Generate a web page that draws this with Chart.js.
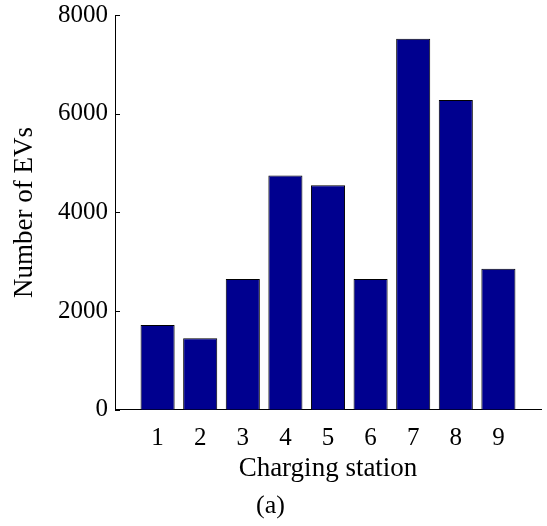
<!DOCTYPE html>
<html>
<head>
<meta charset="utf-8">
<script src="https://cdn.jsdelivr.net/npm/chart.js@4/dist/chart.umd.min.js"></script>
<style>
  html, body { margin: 0; padding: 0; background: #fff; }
  #wrap { width: 547px; height: 526px; }
</style>
</head>
<body>
<div id="wrap"><canvas id="c" width="547" height="526"></canvas></div>
<script>
// Charging stations and number of EVs served at each
const stations = ['1', '2', '3', '4', '5', '6', '7', '8', '9'];
const evCounts = [1720, 1450, 2650, 4750, 4550, 2650, 7520, 6280, 2860];
const yTicks = [0, 2000, 4000, 6000, 8000];

// One empty slot on each side so the stations sit at 1..9 on a 0..10 axis
const labels = [''].concat(stations, ['']);
const values = [null].concat(evCounts, [null]);

const serif = '"Liberation Serif", "Times New Roman", serif';

// Short tick marks drawn inward from the left axis
const inwardTicks = {
  id: 'inwardTicks',
  afterDatasetsDraw(chart) {
    const y = chart.scales.y;
    const ctx = chart.ctx;
    ctx.save();
    ctx.strokeStyle = '#000';
    ctx.lineWidth = 1;
    yTicks.forEach(v => {
      const py = Math.round(y.getPixelForValue(v)) + 0.5;
      ctx.beginPath();
      ctx.moveTo(chart.chartArea.left, py);
      ctx.lineTo(chart.chartArea.left + 5, py);
      ctx.stroke();
    });
    ctx.restore();
  }
};

new Chart(document.getElementById('c'), {
  type: 'bar',
  data: {
    labels: labels,
    datasets: [{
      data: values,
      backgroundColor: '#00008F',
      borderColor: '#000',
      borderWidth: 1,
      barPercentage: 0.8,
      categoryPercentage: 1.0
    }]
  },
  options: {
    responsive: false,
    animation: false,
    layout: { padding: { top: 15, right: 6, bottom: 0, left: 0 } },
    plugins: {
      legend: { display: false },
      tooltip: { enabled: false },
      title: {
        display: true,
        text: '(a)',
        position: 'bottom',
        color: '#000',
        font: { family: serif, size: 26, weight: 'normal' },
        padding: { top: 0, bottom: 4 }
      }
    },
    scales: {
      x: {
        offset: false,
        grid: { display: false, drawTicks: false },
        border: { display: true, color: '#000', width: 1 },
        ticks: {
          color: '#000',
          padding: 14,
          maxRotation: 0,
          autoSkip: false,
          font: { family: serif, size: 25 }
        },
        title: {
          display: true,
          text: 'Charging station',
          color: '#000',
          font: { family: serif, size: 27 },
          padding: { top: 0, bottom: 6 }
        },
        afterFit(scale) {
          scale.height = 81;
          scale.paddingLeft = 0;
          scale.paddingRight = 0;
        }
      },
      y: {
        min: 0,
        max: 8000,
        grid: { display: false, drawTicks: false },
        border: { display: true, color: '#000', width: 1 },
        afterBuildTicks(scale) { scale.ticks = yTicks.map(v => ({ value: v })); },
        ticks: {
          color: '#000',
          padding: 7,
          font: { family: serif, size: 25 },
          callback: (v) => String(v)
        },
        title: {
          display: true,
          text: 'Number of EVs',
          color: '#000',
          font: { family: serif, size: 27 },
          padding: { top: 9, bottom: 0 }
        },
        afterFit(scale) {
          scale.width = 115;
          scale.paddingTop = 0;
          scale.paddingBottom = 0;
        }
      }
    }
  },
  plugins: [inwardTicks]
});
</script>
</body>
</html>
